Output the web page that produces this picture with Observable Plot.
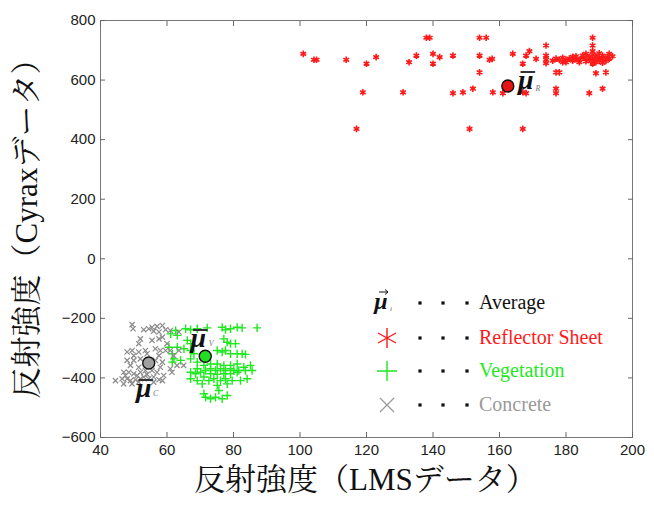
<!DOCTYPE html>
<html><head><meta charset="utf-8">
<script src="https://cdn.jsdelivr.net/npm/d3@7"></script>
<script src="https://cdn.jsdelivr.net/npm/@observablehq/plot@0.6"></script>
<style>
body{margin:0;background:#fff;}
#wrap{position:relative;width:654px;height:507px;overflow:hidden;}
#legend{position:absolute;left:0;top:0;width:654px;height:507px;pointer-events:none;}
.lt{position:absolute;font-family:"Liberation Serif","Times New Roman",serif;font-size:20px;line-height:20px;white-space:nowrap;}
</style>
</head><body>
<div id="wrap"><div id="chart"></div><div id="legend"></div></div>
<script>
// ---- data ----
const xTicks = [40, 60, 80, 100, 120, 140, 160, 180, 200];
const yTicks = [-600, -400, -200, 0, 200, 400, 600, 800];
const xLabel = "反射強度（LMSデータ）";
const yLabel = "反射強度（Cyraxデータ）";

const reflectorX = [101,104.2,105,113.9,120,122.9,118.9,117,131,132.8,135,138,139,140,140,142,146,146,149,152,151,154,156,154,154,157,157.8,158,161,164,167,167,168,169,167,168,171,174,174,174,174,177,178,177,177,188,188,188,189,192,187,191,
  176,177,178,179,179,180,181,182,182,183,184,184,185,185,186,186,187,187,188,188,188,188,189,189,189,190,190,190,191,191,191,192,192,193,193,194,186,183,180];
const reflectorY = [688,668,668,668,655,677,559,436,559,660,682,742,742,688,655,677,682,556,559,571,436,742,742,682,626,668,671,559,556,688,655,436,682,697,559,556,671,716,682,668,657,626,626,571,556,742,716,697,623,626,556,571,
  665,672,668,660,675,668,672,665,678,670,668,660,675,682,670,663,677,668,685,672,662,655,680,668,660,675,690,665,670,682,658,676,664,688,672,680,688,680,660];

const vegetationX = [65.6,67.1,69.1,72.1,76.6,77.6,79.1,81.1,82.6,87.1,62.6,61.1,63.1,66.1,77.1,78.1,79.1,80.6,67.1,60.6,63.1,65.1,67.1,75.1,76.6,77.6,79.1,81.1,82.6,83.6,61.6,68.1,62.1,64.1,67.1,69.1,71.1,73.1,75.1,77.1,79.1,81.1,83.1,85.1,61.6,69.1,70.1,71.6,73.1,74.6,76.1,77.6,79.1,80.1,81.6,83.6,85.6,67.1,68.6,73.1,75.1,77.1,79.1,81.1,67.1,69.1,71.1,72.6,74.1,76.1,77.6,79.6,82.1,84.1,70.6,75.1,78.1,75.6,71.6,73.1,74.6,76.6,78.1,71.1];
const vegetationY = [-235,-238,-235,-232,-230,-238,-235,-230,-232,-232,-241,-252,-257,-274,-269,-280,-285,-285,-285,-297,-297,-302,-308,-308,-313,-308,-319,-319,-319,-321,-319,-319,-336,-341,-336,-347,-358,-353,-353,-358,-358,-353,-364,-358,-347,-369,-381,-375,-369,-375,-369,-375,-369,-375,-375,-375,-375,-381,-386,-386,-388,-386,-386,-381,-403,-409,-397,-409,-403,-409,-403,-409,-409,-403,-420,-425,-420,-442,-465,-470,-465,-470,-459,-453];

const concreteX = [49.5,49.8,53,54.5,55.5,57,58.6,59.6,61,63.6,57.6,56,52,55.5,57.6,58.6,51.5,60,48,49.5,51.5,53.5,56.5,58,59.6,61,63.6,50,54,57.6,62,48,50,52,56.5,58.6,63,65,49,51.5,58,61,47,48.5,50,52,53.5,55.5,57,44.5,46.5,48,49,50.5,52,53,54.5,56,57.6,58.6,47,49.5,51.5,59,61.5,51,54,47.5,56];
const concreteY = [-221,-235,-238,-235,-230,-227,-224,-238,-241,-246,-246,-243,-269,-274,-269,-263,-285,-285,-313,-308,-313,-308,-302,-308,-308,-308,-308,-325,-319,-325,-325,-341,-341,-336,-341,-347,-358,-358,-358,-364,-364,-369,-381,-381,-386,-381,-375,-375,-381,-409,-403,-403,-409,-406,-403,-397,-403,-397,-406,-409,-420,-420,-414,-392,-381,-392,-388,-392,-414];

const seriesNames = ["Reflector Sheet", "Vegetation", "Concrete"];
const seriesColors = ["#ff1a1a", "#1ee81e", "#8c8c8c"];
const meanFill = ["#e41414", "#22dd22", "#a0a0a0"];
const meanSub = ["R", "V", "C"];
const meanX = [162.5, 71.5, 54.5];
const meanY = [580, -327, -350];
const legendLabels = ["Average", "Reflector Sheet", "Vegetation", "Concrete"];

// ---- build tables ----
const pts = [];
reflectorX.forEach((x, i) => pts.push({x, y: reflectorY[i], s: 0}));
vegetationX.forEach((x, i) => pts.push({x, y: vegetationY[i], s: 1}));
concreteX.forEach((x, i) => pts.push({x, y: concreteY[i], s: 2}));
const means = meanX.map((x, i) => ({x, y: meanY[i], s: i, sub: meanSub[i]}));

const serif = "Liberation Serif, Times New Roman, serif";
const jp = "Liberation Serif, Noto Serif CJK JP, Noto Sans CJK JP, serif";
const symbols = ["asterisk", "plus", "times"];
const symR = [3.1, 2.8, 2.5];
const symW = [1.6, 1.4, 1.2];

function muMarks(i, dx, dy, sdx, sdy) {
  const d = means.filter(m => m.s === i);
  return [
    Plot.text(d, {x: "x", y: "y", text: () => "μ", dx, dy, fontSize: 28, fontWeight: "bold", fontStyle: "italic", fontFamily: serif, fill: "#111"}),
    Plot.text(d, {x: "x", y: "y", text: () => "¯", dx: dx + 2, dy: dy + 3, fontSize: 28, fontWeight: "bold", fontFamily: serif, fill: "#333"}),
    Plot.text(d, {x: "x", y: "y", text: "sub", dx: sdx, dy: sdy, fontSize: 8, fontStyle: "italic", fontFamily: serif, fill: "#777"})
  ];
}

const chart = Plot.plot({
  width: 654, height: 507,
  marginTop: 20, marginBottom: 70, marginLeft: 100, marginRight: 22,
  x: {domain: [40, 200]},
  y: {domain: [-600, 800]},
  style: {background: "#fff"},
  marks: [
    Plot.frame({stroke: "#777"}),
    Plot.axisX({anchor: "bottom", ticks: xTicks, tickSize: -5, tickPadding: 12, label: null, fontSize: 15, fontFamily: "Liberation Sans, Arial, sans-serif", stroke: "#666", color: "#222"}),
    Plot.axisX({anchor: "top", ticks: xTicks, tickSize: -5, tickFormat: () => "", label: null, stroke: "#666"}),
    Plot.axisY({anchor: "left", ticks: yTicks, tickSize: -5, tickPadding: 10, label: null, fontSize: 15, fontFamily: "Liberation Sans, Arial, sans-serif", stroke: "#666", color: "#222"}),
    Plot.axisY({anchor: "right", ticks: yTicks, tickSize: -5, tickFormat: () => "", label: null, stroke: "#666"}),
    ...[0, 1, 2].map(i => Plot.dot(pts.filter(p => p.s === i), {x: "x", y: "y", symbol: () => symbols[i], r: symR[i], stroke: seriesColors[i], strokeWidth: symW[i]})),
    Plot.dot(means, {x: "x", y: "y", r: 6, fill: d => meanFill[d.s], stroke: "#111", strokeWidth: 1.4}),
    ...muMarks(0, 18, -6, 30, 2),
    ...muMarks(1, -7, -18, 6, -13),
    ...muMarks(2, -5, 25, 7, 30),
    Plot.text([xLabel], {frameAnchor: "bottom", dx: -1, dy: 52, textAnchor: "middle", fontSize: 31, fontFamily: jp, fill: "#111"}),
    Plot.text([yLabel], {frameAnchor: "left", dx: -73, dy: -8, textAnchor: "middle", rotate: -90, fontSize: 31, fontFamily: jp, fill: "#111"})
  ]
});
document.getElementById("chart").appendChild(chart);

// ---- legend (overlay) ----
const leg = document.getElementById("legend");
const rowY = [303, 338, 371, 405];
const legColors = ["#111", "#ff1a1a", "#1ee81e", "#999"];
const svgNS = "http://www.w3.org/2000/svg";
const lsvg = document.createElementNS(svgNS, "svg");
lsvg.setAttribute("width", 654); lsvg.setAttribute("height", 507);
lsvg.style.position = "absolute"; lsvg.style.left = "0"; lsvg.style.top = "0";
leg.appendChild(lsvg);
function addPath(d, stroke, w) {
  const p = document.createElementNS(svgNS, "path");
  p.setAttribute("d", d); p.setAttribute("stroke", stroke); p.setAttribute("stroke-width", w); p.setAttribute("fill", "none");
  lsvg.appendChild(p);
}
legendLabels.forEach((lab, i) => {
  const cy = rowY[i];
  [420, 443, 467].forEach(x => {
    const r = document.createElementNS(svgNS, "rect");
    r.setAttribute("x", x - 1.6); r.setAttribute("y", cy - 1.6); r.setAttribute("width", 3.2); r.setAttribute("height", 3.2); r.setAttribute("fill", "#111");
    lsvg.appendChild(r);
  });
  const cx = 387;
  if (i === 1) {
    addPath(`M${cx},${cy-10}V${cy+10}M${cx-9},${cy-5}L${cx+9},${cy+5}M${cx-9},${cy+5}L${cx+9},${cy-5}`, legColors[1], 1.4);
  } else if (i === 2) {
    addPath(`M${cx},${cy-10}V${cy+10}M${cx-10},${cy}H${cx+10}`, legColors[2], 1.4);
  } else if (i === 3) {
    addPath(`M${cx-7},${cy-7}L${cx+7},${cy+7}M${cx-7},${cy+7}L${cx+7},${cy-7}`, "#999", 1.3);
  } else {
    const t = document.createElementNS(svgNS, "text");
    t.setAttribute("x", cx - 6); t.setAttribute("y", cy + 6);
    t.setAttribute("font-family", serif); t.setAttribute("font-size", 24); t.setAttribute("font-weight", "bold"); t.setAttribute("font-style", "italic");
    t.setAttribute("text-anchor", "middle"); t.setAttribute("fill", "#111"); t.textContent = "μ";
    lsvg.appendChild(t);
    addPath(`M${cx-8},${cy-11}H${cx+1}M${cx-2},${cy-13.5}L${cx+1},${cy-11}L${cx-2},${cy-8.5}`, "#111", 1);
    const s = document.createElementNS(svgNS, "text");
    s.setAttribute("x", cx + 3); s.setAttribute("y", cy + 8);
    s.setAttribute("font-family", serif); s.setAttribute("font-size", 7); s.setAttribute("font-style", "italic"); s.setAttribute("fill", "#555"); s.textContent = "i";
    lsvg.appendChild(s);
  }
  const d = document.createElement("div");
  d.className = "lt";
  d.style.left = "479px"; d.style.top = (cy - 11) + "px";
  d.style.color = legColors[i];
  d.textContent = lab;
  leg.appendChild(d);
});
</script>
</body></html>
